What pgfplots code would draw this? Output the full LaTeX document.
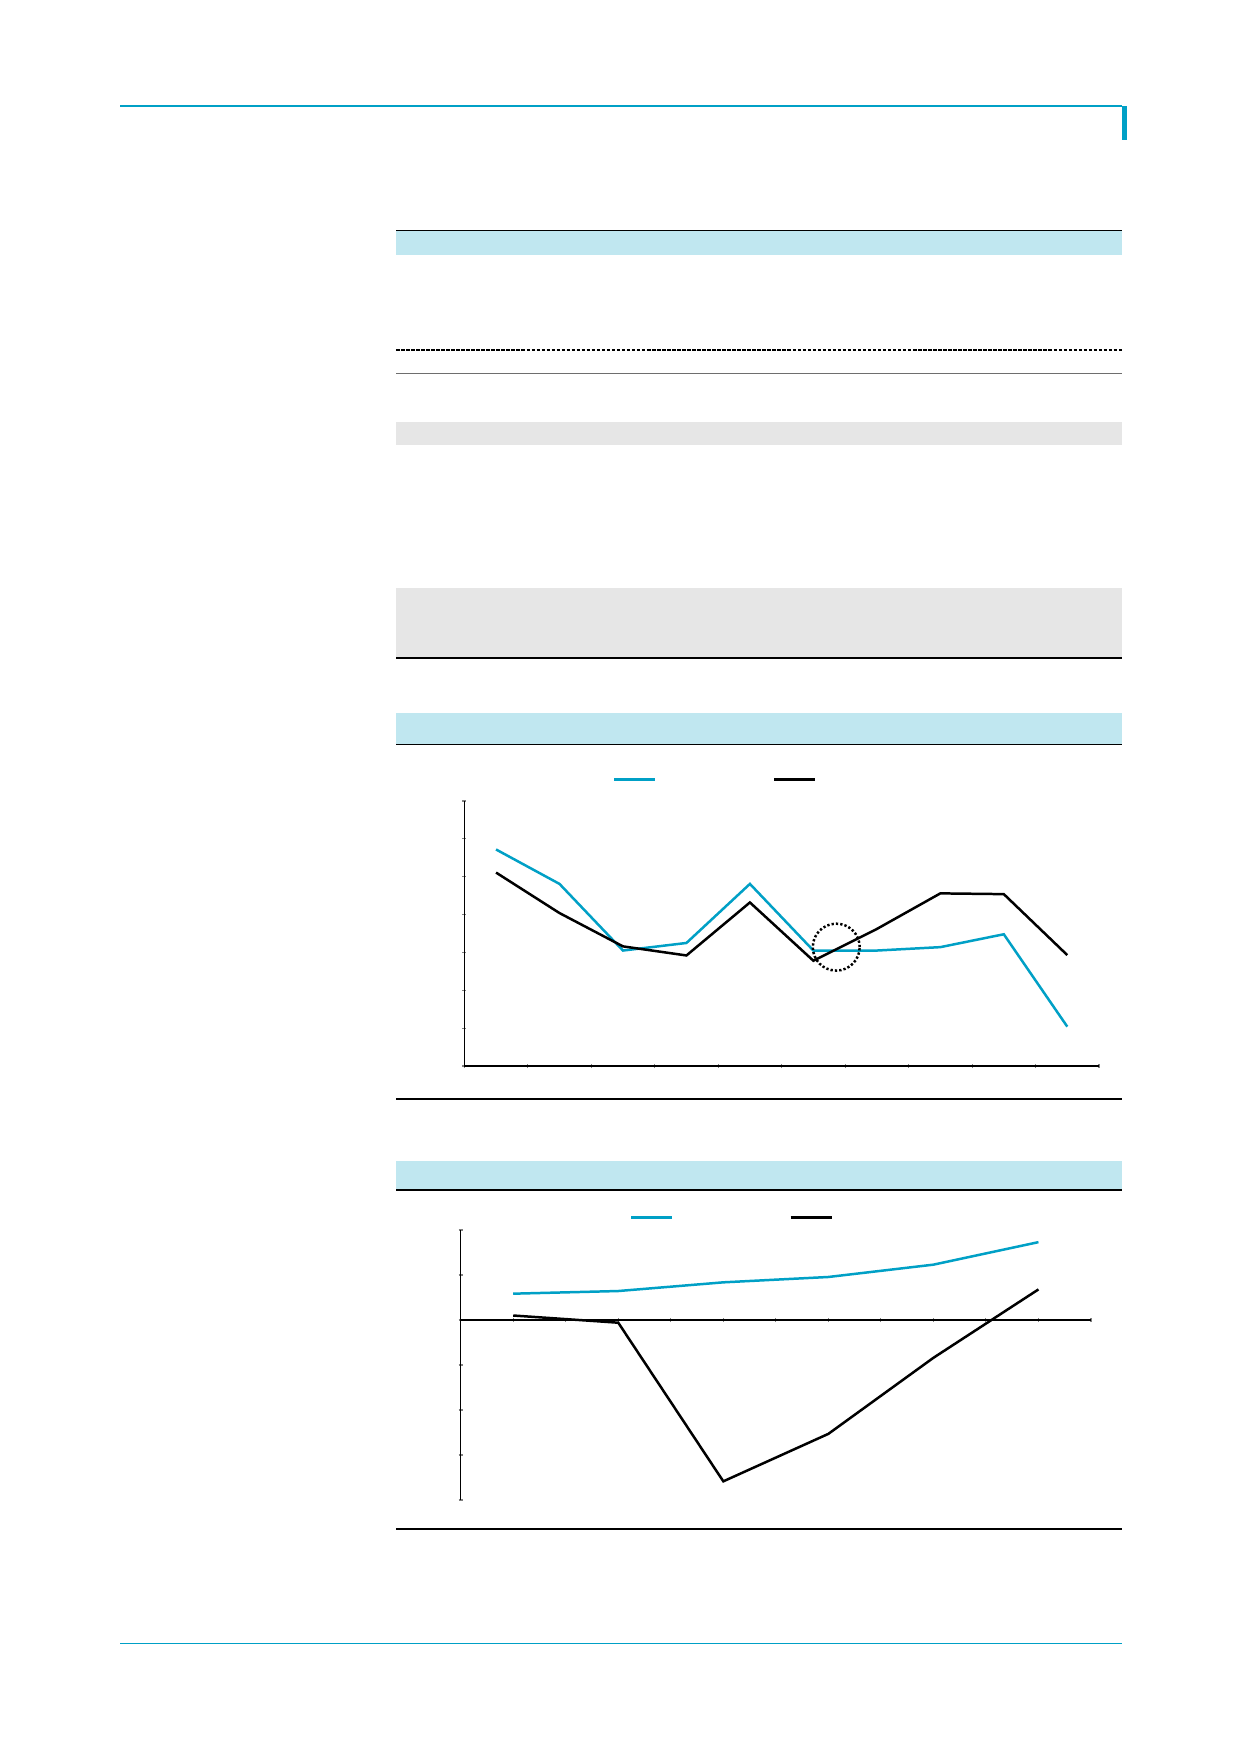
\documentclass[border=0pt]{standalone}
\usepackage{pgfplots}
\pgfplotsset{compat=1.18}
\definecolor{cy}{HTML}{00A0C6}
\definecolor{lb}{HTML}{C0E7F0}
\definecolor{lg}{HTML}{E6E6E6}
\definecolor{dg}{HTML}{6E6E6E}
\pgfplotsset{
  pagechart/.style={
    scale only axis,
    xticklabels={}, yticklabels={},
    tick align=inside,
    major tick length=0.7mm,
    tick style={color=gray, line width=0.5pt},
    clip=false,
    legend columns=2,
    legend image code/.code={\draw[#1] (0mm,0mm) -- (6.94mm,0mm);},
  },
  noarrows/.style={
    axis line style={-, line width=0.5pt, black},
    every inner x axis line/.append style={-},
    every outer x axis line/.append style={-},
    every inner y axis line/.append style={-},
    every outer y axis line/.append style={-},
  },
}
\begin{document}
\begin{tikzpicture}[x=0.1693548mm,y=-0.1693548mm]
\path[use as bounding box] (0,0) rectangle (1240,1754);
\fill[white] (0,0) rectangle (1240,1754);
% page decorations
\draw[cy,line width=0.7pt] (120,106) -- (1122,106);
\fill[cy] (1121.5,105.5) rectangle (1126.7,139.5);
\fill[lb] (396,230.3) rectangle (1122,254.7);
\draw[black,line width=0.6pt] (396,230.3) -- (1122,230.3);
\draw[black,line width=0.5pt,dash pattern=on 0.6mm off 0.25mm] (396,350) -- (1122,350);
\draw[dg,line width=0.7pt] (396,373.5) -- (1122,373.5);
\fill[lg] (396,422) rectangle (1122,445);
\fill[lg] (396,587.5) rectangle (1122,657.5);
\draw[black,line width=0.7pt] (396,657.8) -- (1122,657.8);
\fill[lb] (396,713) rectangle (1122,744);
\draw[black,line width=0.6pt] (396,744.5) -- (1122,744.5);
\draw[black,line width=0.6pt] (396,1099) -- (1122,1099);
\fill[lb] (396,1161) rectangle (1122,1189.5);
\draw[black,line width=0.6pt] (396,1190) -- (1122,1190);
\draw[black,line width=0.6pt] (396,1529) -- (1122,1529);
\draw[cy,line width=0.7pt] (120,1643.6) -- (1122,1643.6);

% chart 1
\begin{axis}[pagechart,
  at={(78.63mm,-180.53mm)}, anchor=south west,
  width=107.49mm, height=44.88mm,
  xmin=0, xmax=10, ymin=0, ymax=7,
  axis lines=left, noarrows,
  xtick={0,...,10}, ytick={0,...,7},
  legend style={draw=none, fill=none, inner sep=0pt, outer sep=0pt,
    at={(axis cs:2.343,7.573)}, anchor=west,
    nodes={inner sep=0pt},
    /tikz/every even column/.append style={column sep=19.35mm}},
]
\addplot[cy, line width=1.2pt] coordinates {
(0.5,5.72) (1.5,4.81) (2.5,3.05) (3.5,3.25) (4.5,4.81)
(5.5,3.05) (6.5,3.05) (7.5,3.14) (8.5,3.48) (9.5,1.04)};
\addlegendentry{}
\addplot[black, line width=1.2pt] coordinates {
(0.5,5.11) (1.5,4.04) (2.5,3.16) (3.5,2.92) (4.5,4.32)
(5.5,2.78) (6.5,3.62) (7.5,4.56) (8.5,4.54) (9.5,2.93)};
\addlegendentry{}
\addplot[forget plot, only marks, mark=o, mark size=11.3pt,
  mark options={black, line width=1.2pt, line cap=butt, dash pattern=on 1.1pt off 1.0pt}]
  coordinates {(5.86,3.14)};
\end{axis}

% chart 2
\begin{axis}[pagechart,
  at={(78.02mm,-254.03mm)}, anchor=south west,
  width=106.74mm, height=45.73mm,
  xmin=0, xmax=12, ymin=-4, ymax=2,
  axis y line=left, axis x line=middle, noarrows,
  xtick={0,...,12}, ytick={-4,...,2},
  legend style={draw=none, fill=none, inner sep=0pt, outer sep=0pt,
    at={(axis cs:3.223,2.282)}, anchor=west,
    nodes={inner sep=0pt},
    /tikz/every even column/.append style={column sep=19.3mm}},
]
\addplot[cy, line width=1.2pt] coordinates {
(1,0.585) (3,0.644) (5,0.837) (7,0.956) (9,1.23) (11,1.73)};
\addlegendentry{}
\addplot[black, line width=1.2pt] coordinates {
(1,0.10) (3,-0.06) (5,-3.585) (7,-2.53) (9,-0.84) (11,0.68)};
\addlegendentry{}
\end{axis}
\end{tikzpicture}
\end{document}
